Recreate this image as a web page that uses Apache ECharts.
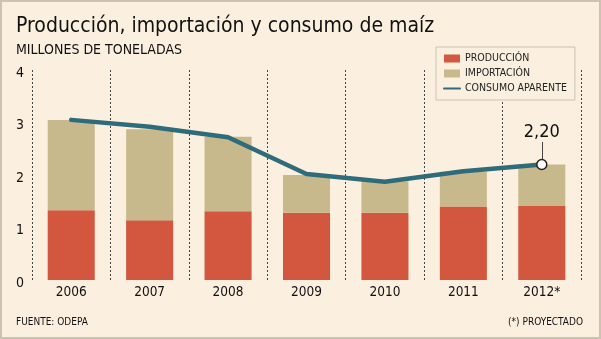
<!DOCTYPE html>
<html><head><meta charset="utf-8"><script src="https://cdn.jsdelivr.net/npm/echarts@6/dist/echarts.min.js"></script>
<style>html,body{margin:0;padding:0;background:#fbf0df}#c{width:601px;height:339px;box-sizing:border-box;border:2px solid #cdc3b3}</style></head>
<body><div id="c"></div>
<script>
const categories = ['2006','2007','2008','2009','2010','2011','2012*'];
const produccion = [1.33, 1.14, 1.31, 1.28, 1.28, 1.40, 1.41];
const importacion = [1.72, 1.73, 1.42, 0.72, 0.60, 0.66, 0.79];
const consumo = [3.05, 2.92, 2.72, 2.02, 1.87, 2.07, 2.20];
const yTicks = [0, 1, 2, 3, 4];

const FONT = '"DejaVu Sans Condensed", "DejaVu Sans", sans-serif';
const last = consumo.length - 1;
const fmt = v => v.toFixed(2).replace('.', ',');

const chart = echarts.init(document.getElementById('c'), null, {renderer: 'canvas'});
chart.setOption({
  backgroundColor: '#fbf0df',
  animation: false,
  grid: {left: 30, right: 18, top: 68, bottom: 57},
  legend: {
    orient: 'vertical', left: 434, top: 45,
    padding: [5, 8, 5, 7], itemGap: 2, itemWidth: 16, itemHeight: 8,
    borderColor: '#cbc1b0', borderWidth: 1, backgroundColor: '#fbf0df',
    textStyle: {fontFamily: FONT, fontSize: 10.5, color: '#222', lineHeight: 13},
    data: [
      {name: 'PRODUCCIÓN', icon: 'rect'},
      {name: 'IMPORTACIÓN', icon: 'rect'},
      {name: 'CONSUMO APARENTE', itemStyle: {color: 'rgba(0,0,0,0)', borderColor: 'rgba(0,0,0,0)', borderWidth: 0, opacity: 0}}
    ]
  },
  xAxis: {
    type: 'category', data: categories,
    axisLine: {show: false}, axisTick: {show: false},
    axisLabel: {fontFamily: FONT, fontSize: 13.5, color: '#111', margin: 5},
    splitLine: {show: true, lineStyle: {color: '#444', type: [2, 2], width: 1}}
  },
  yAxis: {
    type: 'value', min: yTicks[0], max: yTicks[yTicks.length - 1], interval: 1,
    axisLine: {show: false}, axisTick: {show: false}, splitLine: {show: false},
    axisLabel: {fontFamily: FONT, fontSize: 14, color: '#111', margin: 8, verticalAlign: 'top', lineHeight: 6}
  },
  series: [
    {name: 'PRODUCCIÓN', type: 'bar', stack: 't', data: produccion, barWidth: '60%', itemStyle: {color: '#d3573f'}},
    {name: 'IMPORTACIÓN', type: 'bar', stack: 't', data: importacion, barWidth: '60%', itemStyle: {color: '#c8b98d'}},
    {name: 'CONSUMO APARENTE', type: 'line', data: consumo.map((v, i) => i === last ? {
        value: v, symbol: 'circle', symbolSize: 10,
        itemStyle: {color: '#fff', borderColor: '#222', borderWidth: 1.5},
        label: {show: true, position: 'top', distance: 17, formatter: fmt(v), fontFamily: FONT, fontSize: 18, color: '#111'}
      } : v),
      symbol: 'none', showSymbol: true,
      lineStyle: {color: '#2e6b7b', width: 4.5, cap: 'round', join: 'round'},
      itemStyle: {color: '#2e6b7b'},
      z: 5,
      markLine: {
        silent: true, symbol: 'none', label: {show: false},
        lineStyle: {color: '#444', width: 1, type: 'solid'},
        data: [[{coord: [last, consumo[last] + 0.1]}, {coord: [last, consumo[last] + 0.43]}]]
      }
    }
  ],
  graphic: [
    {type: 'text', x: 14, y: 25, style: {text: 'Producción, importación y consumo de maíz', font: '21px ' + FONT, fill: '#111', verticalAlign: 'middle'}},
    {type: 'text', x: 14, y: 48, style: {text: 'MILLONES DE TONELADAS', font: '14px ' + FONT, fill: '#111', verticalAlign: 'middle'}},
    {type: 'text', x: 14, y: 320.5, style: {text: 'FUENTE: ODEPA', font: '10px ' + FONT, fill: '#111', verticalAlign: 'middle'}},
    {type: 'text', x: 581, y: 320.5, style: {text: '(*) PROYECTADO', font: '10px ' + FONT, fill: '#111', verticalAlign: 'middle', align: 'right'}}
  ]
});
</script></body></html>
